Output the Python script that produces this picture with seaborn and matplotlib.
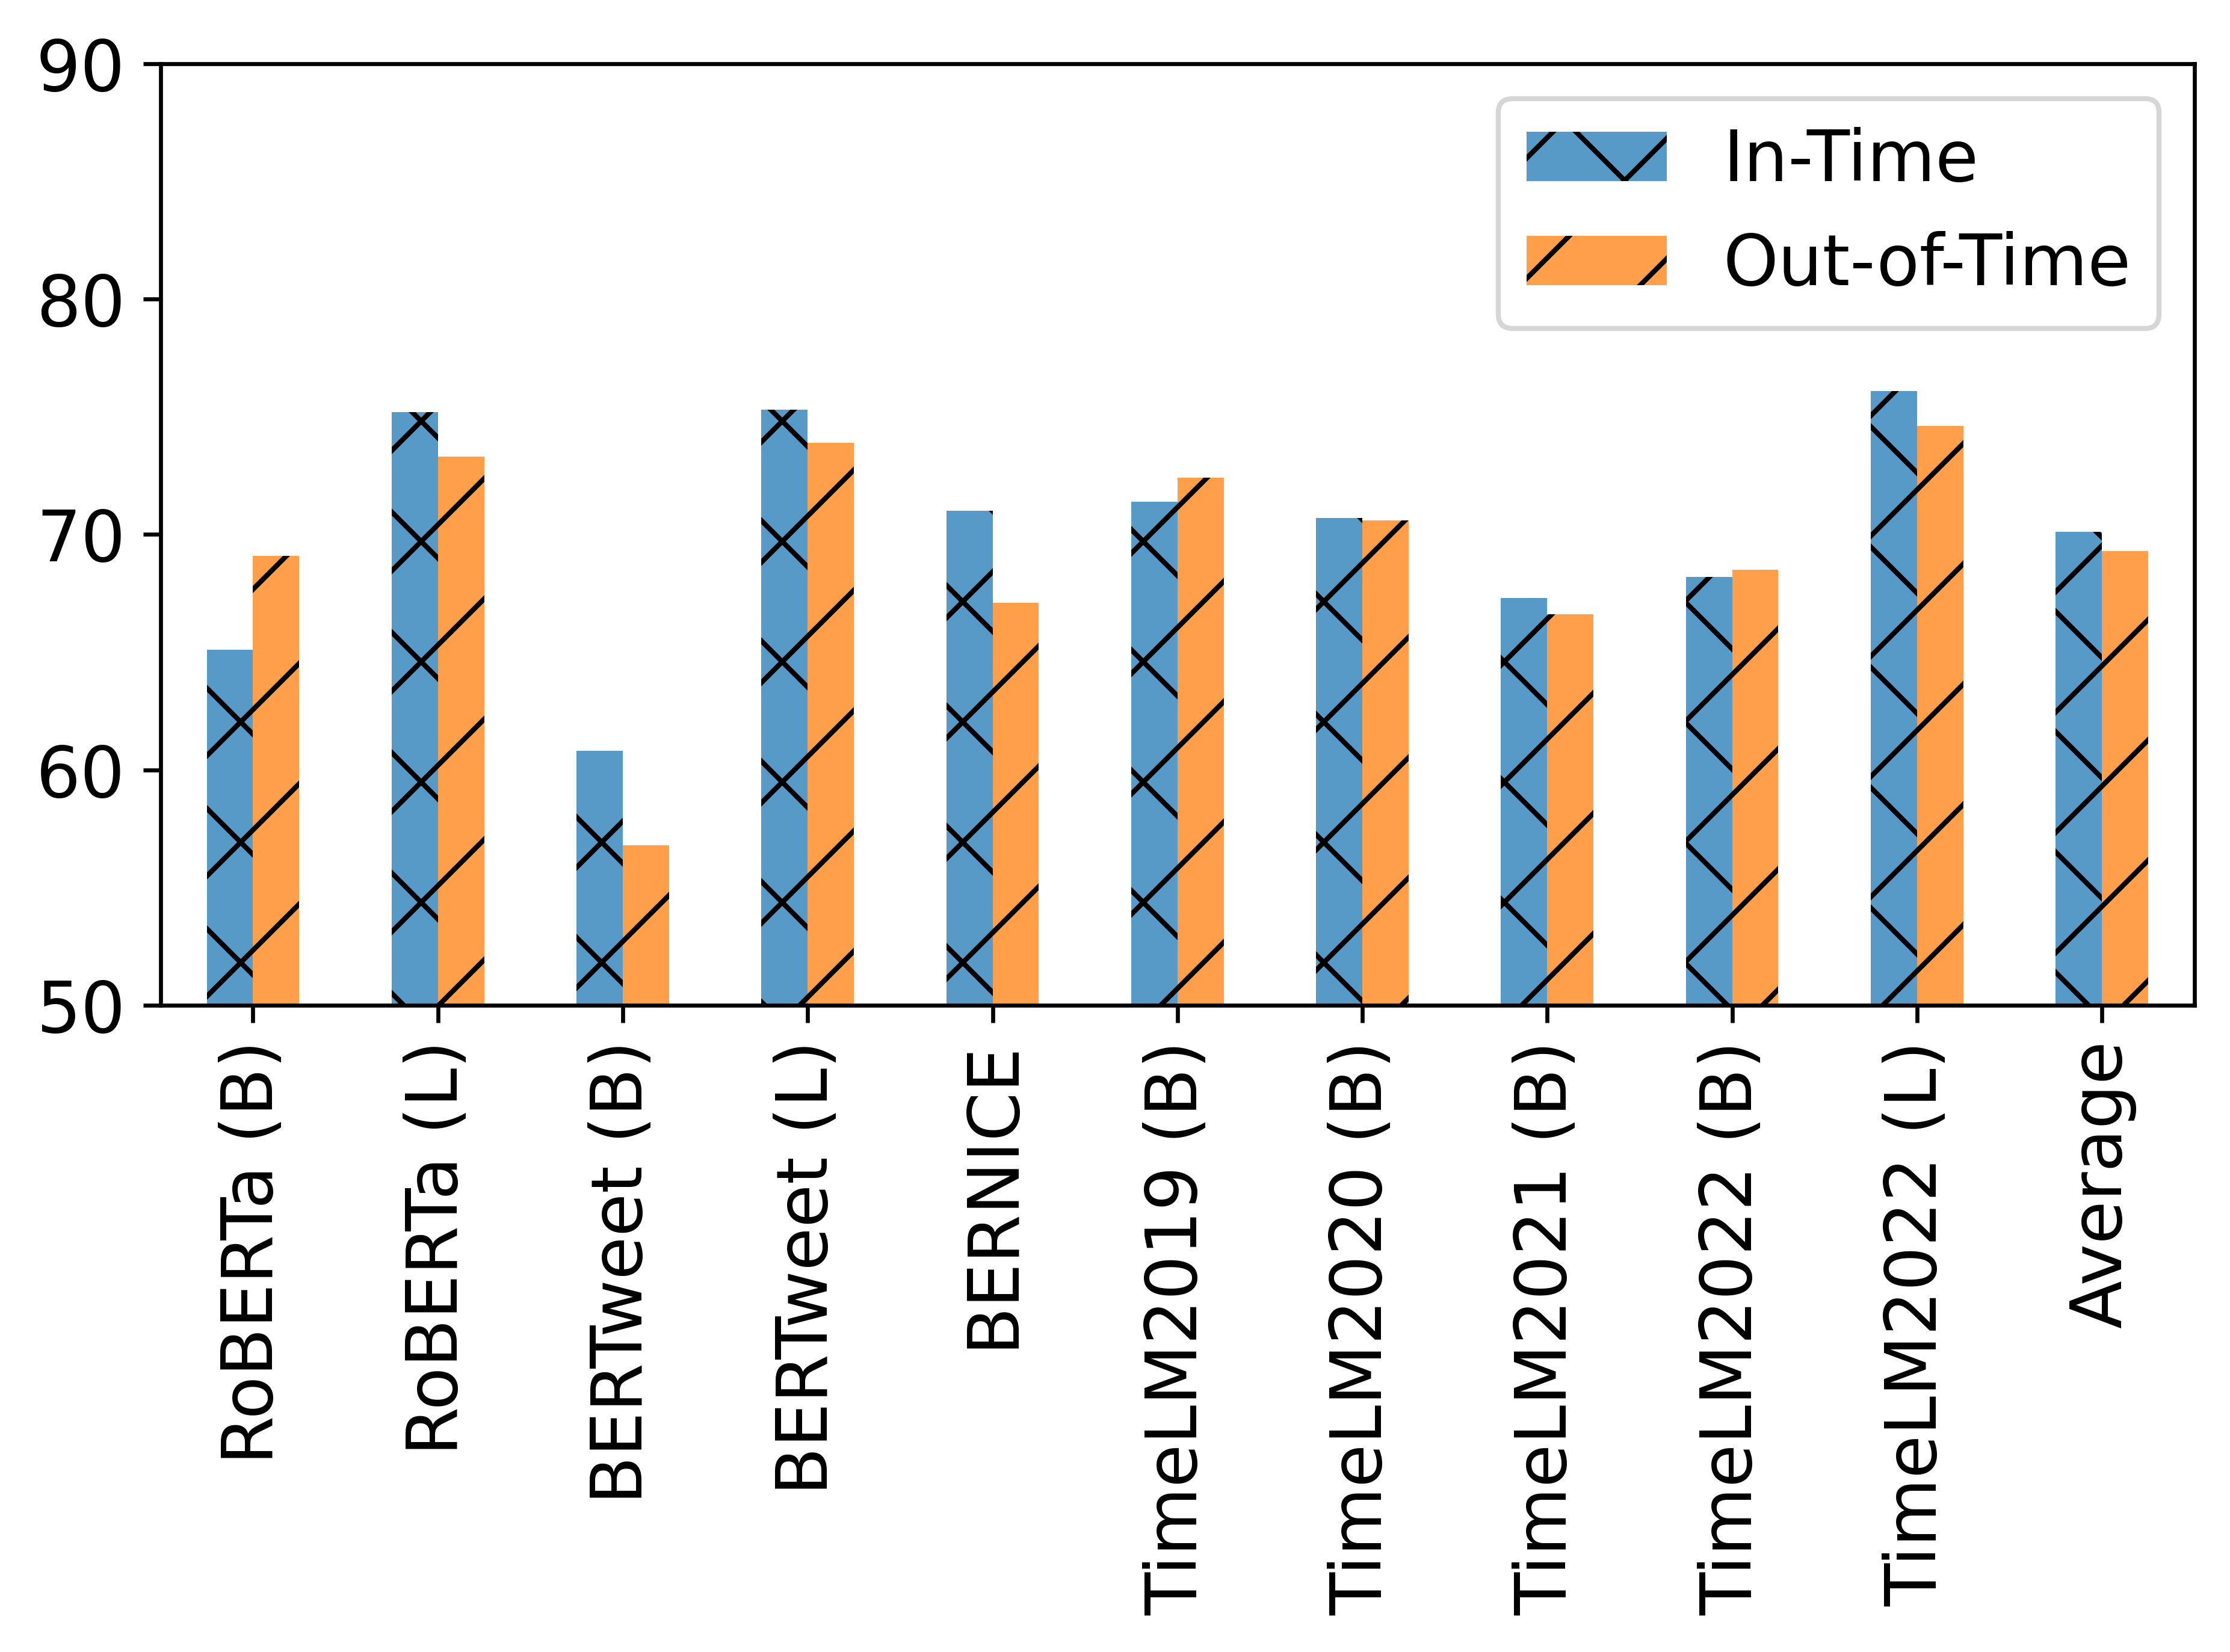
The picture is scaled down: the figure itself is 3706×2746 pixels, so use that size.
import pandas as pd
import matplotlib.pyplot as plt
import seaborn as sns

# values
models = ["RoBERTa (B)", "RoBERTa (L)", "BERTweet (B)", "BERTweet (L)", "BERNICE",
          "TimeLM2019 (B)", "TimeLM2020 (B)", "TimeLM2021 (B)", "TimeLM2022 (B)",
          "TimeLM2022 (L)", "Average"]
in_time = [65.1, 75.2, 60.8, 75.3, 71.0, 71.4, 70.7, 67.3, 68.2, 76.1, 70.1]
out_of_time = [69.1, 73.3, 56.8, 73.9, 67.1, 72.4, 70.6, 66.6, 68.5, 74.6, 69.3]
series = ["In-Time", "Out-of-Time"]
colors = ["#5799C7", "#FF9F4A"]
hatches = ["x", "/"]

plt.rcParams.update({
    "font.size": 14,
    "hatch.linewidth": 1.0,
})

df = pd.DataFrame({
    "model": models * 2,
    "score": in_time + out_of_time,
    "split": [series[0]] * len(models) + [series[1]] * len(models),
})

fig = plt.figure(figsize=(3706 / 600, 2746 / 600), dpi=600)
ax = fig.add_axes([0.072, 0.3915, 0.912, 0.570])

sns.barplot(data=df, x="model", y="score", hue="split", palette=colors,
            width=0.5, saturation=1, errorbar=None, edgecolor="black",
            linewidth=0, legend=False, ax=ax)

for cont, h in zip(ax.containers, hatches):
    for p in cont:
        p.set_hatch(h)

ax.set_ylim(50, 90)
ax.set_yticks(range(50, 91, 10))
ax.set_xlabel("")
ax.set_ylabel("")
ax.tick_params(axis="x", rotation=90)

ax.legend(ax.containers, series, loc="upper right")

fig.savefig("out.png", dpi=600)
